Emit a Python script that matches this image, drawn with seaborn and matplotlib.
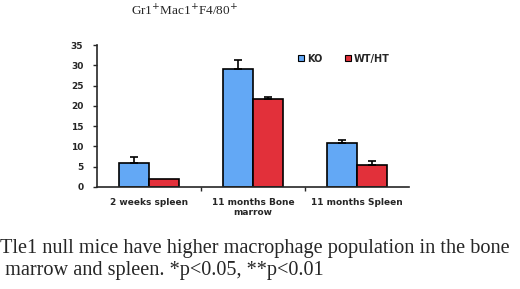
import matplotlib
matplotlib.use("Agg")
import matplotlib.pyplot as plt
import seaborn as sns
import pandas as pd
from matplotlib.lines import Line2D

categories = ["2 weeks spleen", "11 months Bone\nmarrow", "11 months Spleen"]
groups = ["KO", "WT/HT"]
ko_values = [5.9, 29.0, 10.8]
ko_errors = [1.6, 2.4, 0.9]
wt_values = [1.9, 21.8, 5.4]
wt_errors = [0.0, 0.3, 0.9]
colors = ["#63A8F5", "#E2303A"]

df = pd.DataFrame({
    "category": categories * 2,
    "group": [groups[0]] * 3 + [groups[1]] * 3,
    "value": ko_values + wt_values,
    "err": ko_errors + wt_errors,
})

sns.set_style("white")
plt.rcParams["font.family"] = ["DejaVu Sans"]

fig = plt.figure(figsize=(5.2, 2.89), dpi=100)
ax = fig.add_axes([0.187, 0.353, 0.600, 0.491])

sns.barplot(data=df, x="category", y="value", hue="group", palette=colors,
            saturation=1, width=0.58, edgecolor="black", linewidth=1.2,
            ax=ax, legend=False)

# error bars (upper only) from the bar patches
for bar, (_, row) in zip(ax.patches, df.iterrows()):
    xc = bar.get_x() + bar.get_width() / 2
    if row["err"] > 0:
        ax.errorbar(xc, row["value"], yerr=[[0], [row["err"]]], fmt="none",
                    ecolor="black", elinewidth=1.2, capsize=3, capthick=1.2)

ax.set_ylim(0, 35)
ax.set_yticks(range(0, 36, 5))
ax.set_xlim(-0.5, 2.5)
ax.set_xlabel("")
ax.set_ylabel("")
ax.tick_params(axis="x", length=0, labelsize=6.5, pad=8)
ax.tick_params(axis="y", length=3, width=1, labelsize=6.5, pad=7, direction="out", left=True)
for lbl in ax.get_xticklabels() + ax.get_yticklabels():
    lbl.set_fontweight("bold")
ax.set_xticks([0.5, 1.5], minor=True)
ax.tick_params(axis="x", which="minor", length=3, width=1, direction="out", bottom=True)
sns.despine(ax=ax)
ax.spines["left"].set_linewidth(1.2)
ax.spines["bottom"].set_linewidth(1.2)

handles = [Line2D([], [], marker="s", linestyle="", markersize=5,
                  markerfacecolor=c, markeredgecolor="black", markeredgewidth=0.8)
           for c in colors]
leg = ax.legend(handles, groups, ncol=2, frameon=False, loc="upper right",
                bbox_to_anchor=(0.965, 1.0), handletextpad=0.2, columnspacing=2.2,
                prop={"size": 7, "weight": "bold"}, handlelength=0.8)

fig.text(0.355, 0.962, "Gr1$^{+}$Mac1$^{+}$F4/80$^{+}$", ha="center", va="center",
         fontsize=9.5, family="Liberation Serif")
fig.text(0.0, 0.102, "Tle1 null mice have higher macrophage population in the bone\n"
         " marrow and spleen. *p<0.05, **p<0.01",
         ha="left", va="center", fontsize=14.6, family="Liberation Serif",
         linespacing=1.17)

fig.savefig("out.png", dpi=100, facecolor="white")
